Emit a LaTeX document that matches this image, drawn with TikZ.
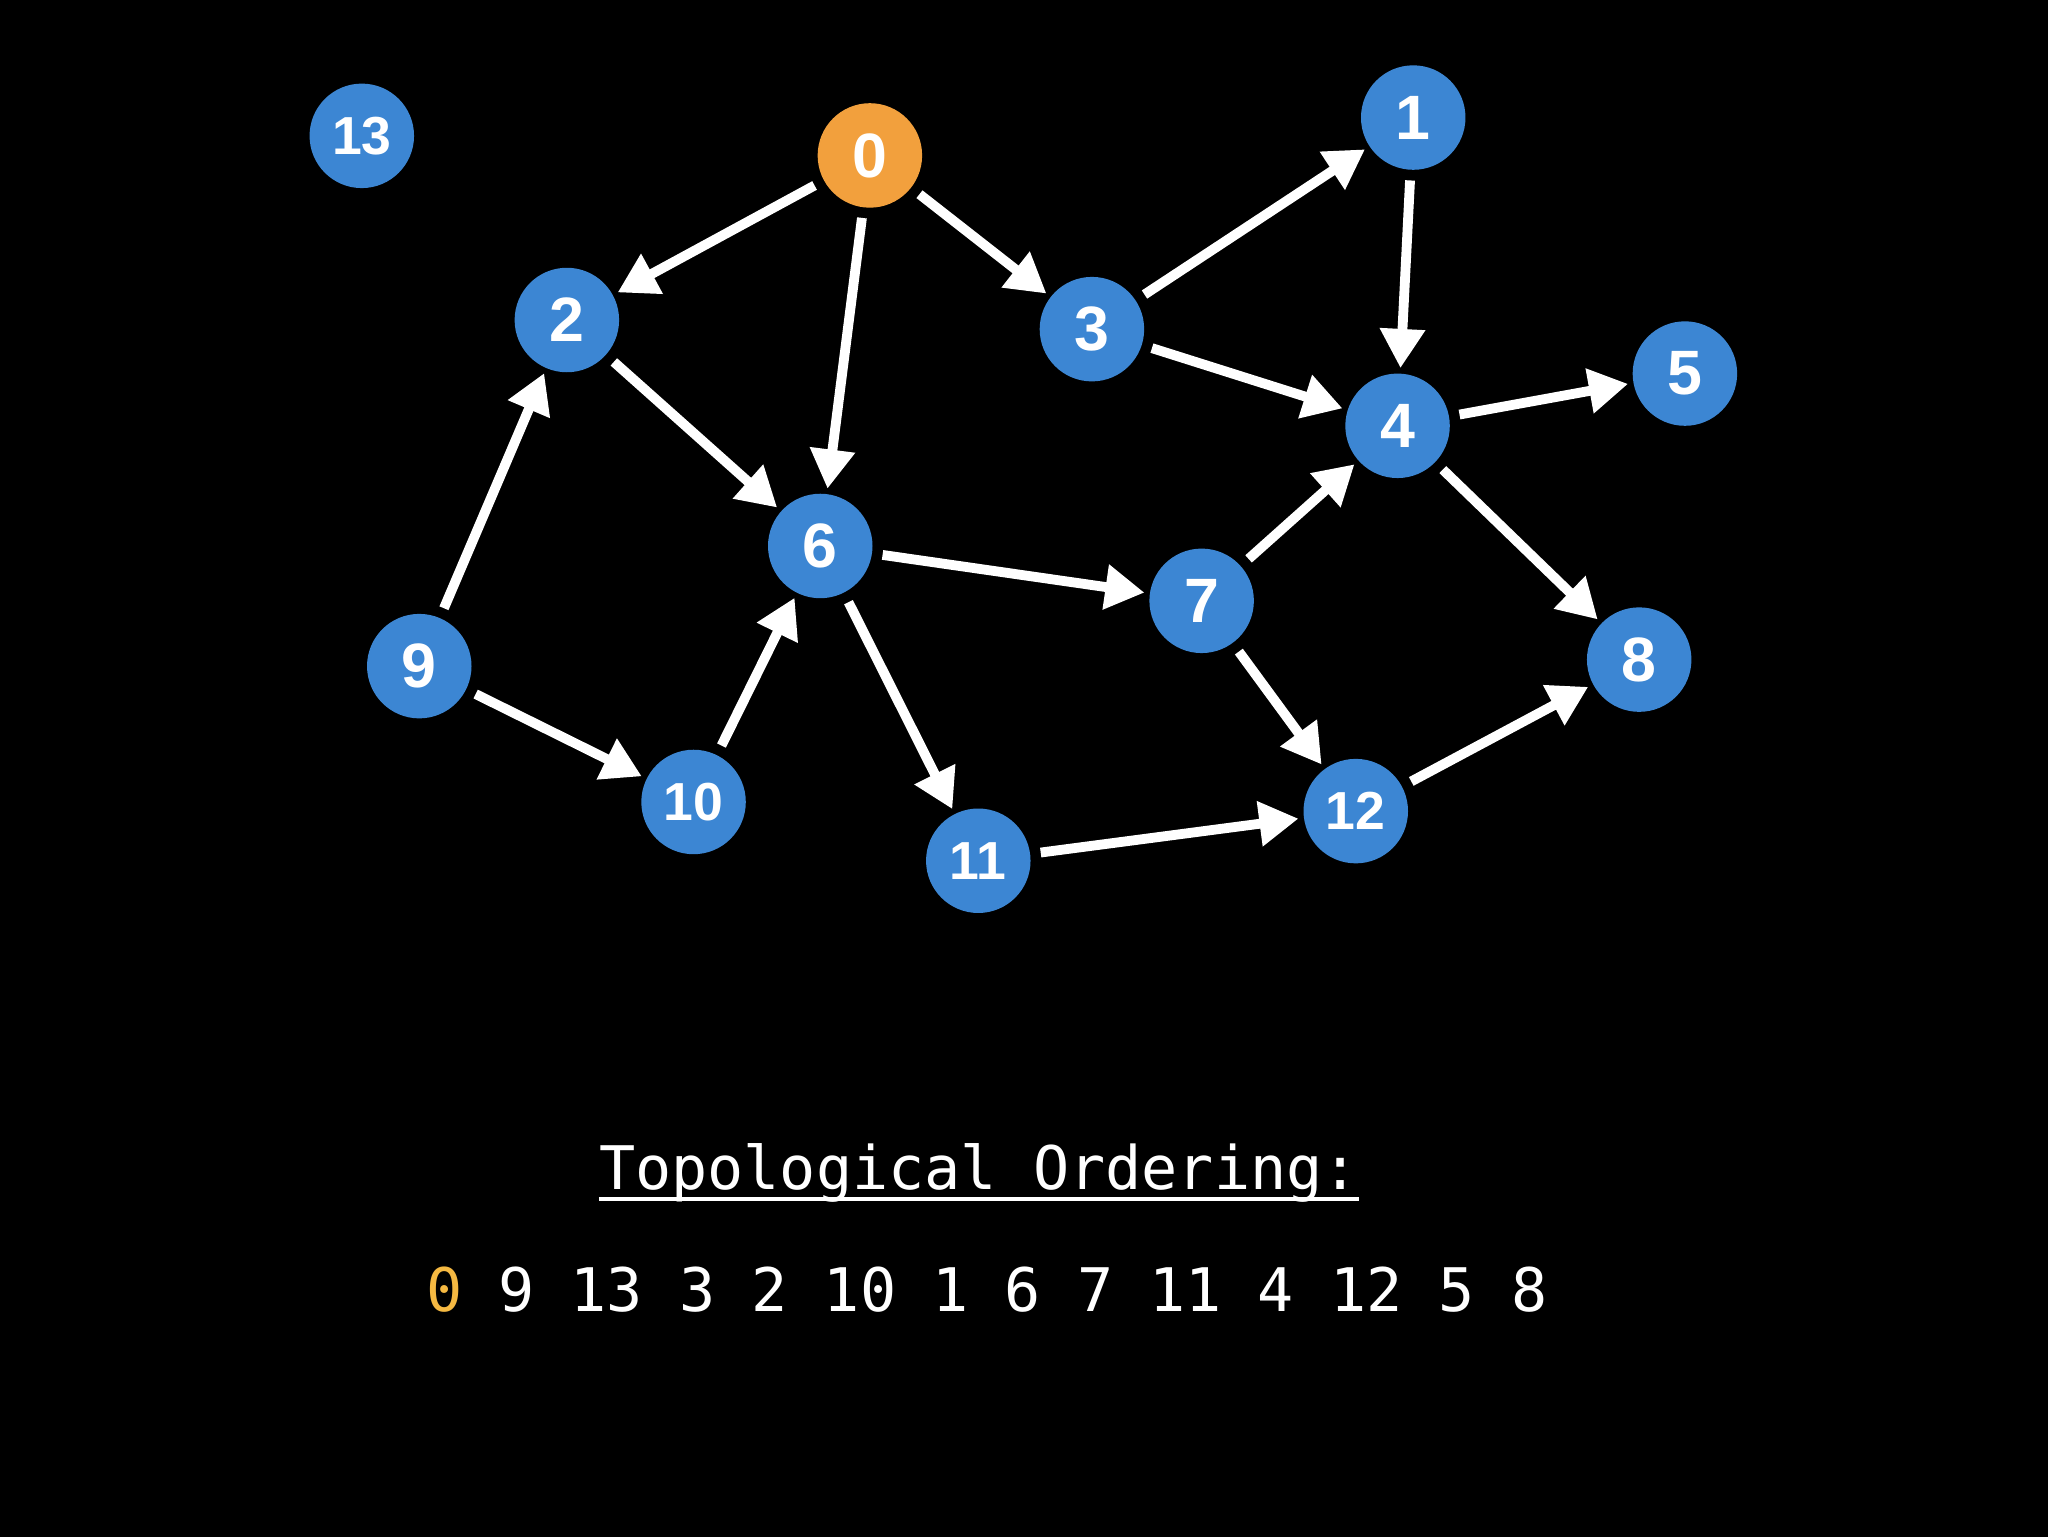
\documentclass[tikz,border=0pt]{standalone}
\usepackage{fontspec}
\setmainfont{Liberation Sans}
\newfontfamily\monof{DejaVu Sans Mono}
\usetikzlibrary{arrows.meta}
\definecolor{nodeblue}{HTML}{3C86D3}
\definecolor{nodeorange}{HTML}{F2A03D}
\definecolor{ordorange}{HTML}{F5B942}
\tikzset{
  vtx/.style={circle, fill=nodeblue, minimum size=80pt, inner sep=0pt, text=white,
    font=\bfseries\fontsize{48}{48}\selectfont},
  vtxsmall/.style={vtx, font=\bfseries\fontsize{41}{41}\selectfont},
  srcvtx/.style={vtx, fill=nodeorange},
  edge/.style={draw=white, line width=7.5pt,
    -{Triangle[length=30pt,width=33pt]}, shorten <=8pt, shorten >=4pt},
}
\begin{document}
\begin{tikzpicture}[x=1pt,y=-1pt]
\path[use as bounding box] (0,0) rectangle (1568,1176);
\fill[black] (-10,-10) rectangle (1578,1186);
\node[vtxsmall] (n13) at (277,104) {13};
\node[srcvtx]  (n0)  at (666,119) {0};
\node[vtx]     (n1)  at (1082,90) {1};
\node[vtx]     (n2)  at (434,245) {2};
\node[vtx]     (n3)  at (836,252) {3};
\node[vtx]     (n4)  at (1070,326) {4};
\node[vtx]     (n5)  at (1290,286) {5};
\node[vtx]     (n6)  at (628,418) {6};
\node[vtx]     (n7)  at (920,460) {7};
\node[vtx]     (n8)  at (1255,505) {8};
\node[vtx]     (n9)  at (321,510) {9};
\node[vtxsmall] (n10) at (531,614) {10};
\node[vtxsmall] (n11) at (749,659) {11};
\node[vtxsmall] (n12) at (1038,621) {12};
\foreach \a/\b in {0/2,0/6,0/3,3/1,3/4,1/4,4/5,4/8,2/6,9/2,9/10,10/6,6/7,6/11,7/4,7/12,11/12,12/8}
  \draw[edge] (n\a) -- (n\b);
\node[text=white, inner sep=0pt, anchor=base, font=\monof\fontsize{46}{46}\selectfont]
  (title) at (749.5,911) {Topological Ordering:};
\draw[white, line width=2.5pt] ([yshift=-7pt]title.base west) -- ([yshift=-7pt]title.base east);
\node[text=white, inner sep=0pt, anchor=base west, font=\monof\fontsize{46}{46}\selectfont]
  (order) at (326,1004) {\textcolor{ordorange}{0} 9 13 3 2 10 1 6 7 11 4 12 5 8};
\end{tikzpicture}
\end{document}
